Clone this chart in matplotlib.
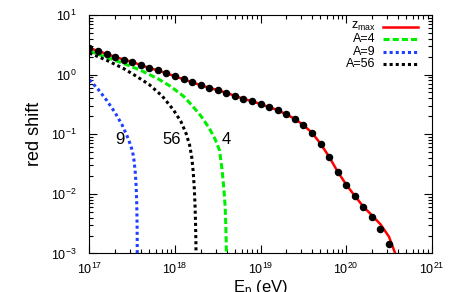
import matplotlib.pyplot as plt
import numpy as np

plt.rcParams['font.family'] = ['Liberation Sans', 'DejaVu Sans']
plt.rcParams['mathtext.fontset'] = 'custom'
plt.rcParams['mathtext.rm'] = 'Liberation Sans'
plt.rcParams['mathtext.it'] = 'Liberation Sans:italic'

# log10(E/eV) of the black points (and red z_max line)
pts_lgE = [17.0, 17.1, 17.2, 17.3, 17.4, 17.5, 17.6, 17.7, 17.8, 17.9,
           18.0, 18.1, 18.2, 18.3, 18.4, 18.5, 18.6, 18.7, 18.8, 18.9,
           19.0, 19.1, 19.2, 19.3, 19.4, 19.5, 19.6, 19.7, 19.8, 19.9,
           20.0, 20.1, 20.2, 20.3, 20.4, 20.5]
pts_z = [2.77, 2.49, 2.22, 1.98, 1.78, 1.63, 1.44, 1.29, 1.17, 1.05,
         0.933, 0.832, 0.741, 0.664, 0.598, 0.548, 0.493, 0.440, 0.391, 0.358,
         0.319, 0.284, 0.254, 0.214, 0.181, 0.142, 0.106, 0.0693, 0.0420, 0.0236,
         0.0143, 0.00925, 0.00612, 0.00411, 0.00262, 0.00143]

zmax_lgE = pts_lgE[:33] + [20.3, 20.4, 20.5, 20.6]
zmax_z = pts_z[:33] + [0.00437, 0.00309, 0.00191, 0.00079]

a4_lgE = [17.0, 17.2, 17.4, 17.6, 17.8, 17.95, 18.1, 18.2, 18.3, 18.4,
          18.47, 18.52, 18.55, 18.57, 18.585, 18.593, 18.598, 18.6]
a4_z = [2.455, 1.95, 1.531, 1.175, 0.851, 0.631, 0.4315, 0.302, 0.204, 0.126,
        0.0813, 0.0537, 0.0251, 0.0126, 0.00631, 0.00316, 0.00158, 0.00079]

a9_lgE = [17.0, 17.1, 17.2, 17.3, 17.38, 17.44, 17.48, 17.505, 17.522,
          17.536, 17.546, 17.552, 17.556, 17.558, 17.559]
a9_z = [0.817, 0.569, 0.3715, 0.229, 0.1445, 0.0933, 0.0661, 0.0501, 0.0355,
        0.0224, 0.0132, 0.00759, 0.0038, 0.00178, 0.00079]

a56_lgE = [17.0, 17.2, 17.4, 17.55, 17.7, 17.85, 17.98, 18.07, 18.13, 18.17,
           18.195, 18.212, 18.225, 18.234, 18.24, 18.244, 18.246]
a56_z = [2.291, 1.738, 1.259, 0.933, 0.676, 0.4365, 0.257, 0.162, 0.102, 0.0661,
         0.0417, 0.0240, 0.0126, 0.00631, 0.00316, 0.00158, 0.00079]

curve_labels = ['9', '56', '4']
label_lgE = [17.36, 17.96, 18.60]
label_z = [0.081, 0.081, 0.081]

E = lambda lg: 10 ** np.array(lg)

fig = plt.figure(figsize=(4.54, 2.92), dpi=100)
ax = fig.add_axes([0.197, 0.132, 0.754, 0.817])

ax.plot(E(zmax_lgE), zmax_z, color='red', lw=1.8)
ax.plot(E(a4_lgE), a4_z, color='#00ee00', lw=2.2, ls=(0, (2, 1)))
ax.plot(E(a9_lgE), a9_z, color='#1f3fff', lw=2.2, ls=(0, (1, 1)))
ax.plot(E(a56_lgE), a56_z, color='black', lw=2.2, ls=(0, (1, 1)))
ax.plot(E(pts_lgE), pts_z, 'o', color='black', ms=4.4, zorder=5)

for t, x, y in zip(curve_labels, label_lgE, label_z):
    ax.text(10 ** x, y, t, fontsize=12, ha='center', va='center')

ax.set_xscale('log')
ax.set_yscale('log')
ax.set_xlim(1e17, 1e21)
ax.set_ylim(1e-3, 1e1)

ax.tick_params(which='both', direction='in', top=True, right=True, labelsize=9)
ax.tick_params(which='major', length=6, width=0.8)
ax.tick_params(which='minor', length=3, width=0.8)
ax.tick_params(axis='y', pad=9)
ax.tick_params(axis='x', pad=6)

ax.set_xlabel(r'E$_\mathregular{p}$ (eV)', fontsize=12, labelpad=1)
ax.set_ylabel('red shift', fontsize=13, labelpad=6)

# legend, right-aligned text like the original
leg_names = [r'z$_\mathregular{max}$', 'A=4', 'A=9', 'A=56']
leg_colors = ['red', '#00ee00', '#1f3fff', 'black']
leg_styles = ['-', (0, (2, 1)), (0, (1, 1)), (0, (1, 1))]
leg_y = [0.951, 0.898, 0.846, 0.793]
for name, c, s, y in zip(leg_names, leg_colors, leg_styles, leg_y):
    ax.text(0.836, y, name, transform=ax.transAxes, ha='right', va='center', fontsize=9)
    ax.plot([0.857, 0.959], [y, y], transform=ax.transAxes, color=c, ls=s,
            lw=1.8 if s == '-' else 2.2)

fig.savefig('out.png', dpi=100)
